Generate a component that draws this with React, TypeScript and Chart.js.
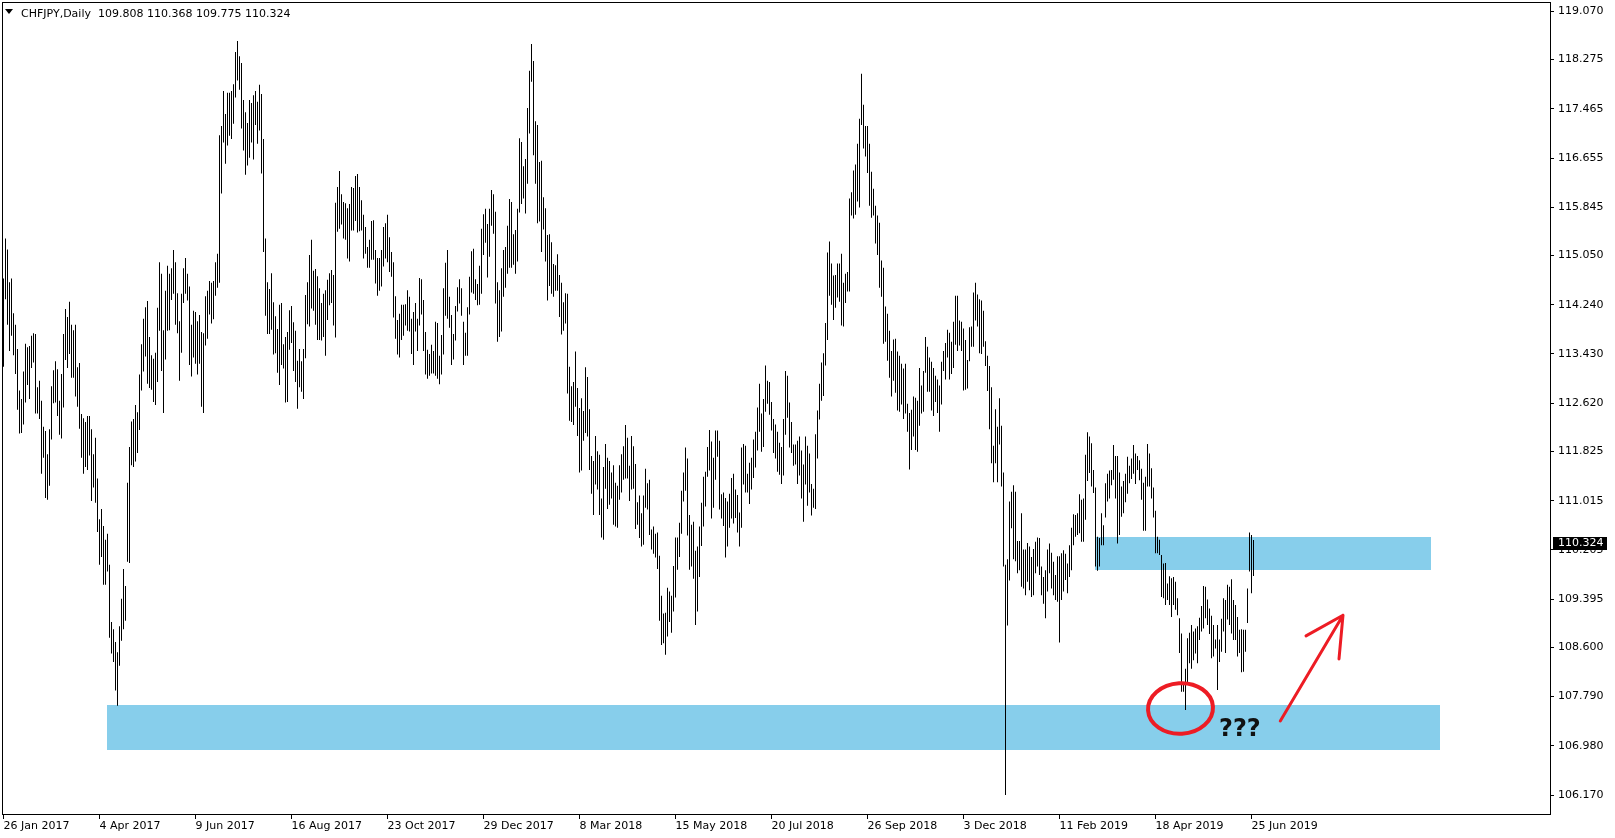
import React, { useEffect, useRef } from "react";
import { Chart, registerables } from "chart.js";

Chart.register(...registerables);

const symbolTitle = "CHFJPY,Daily";
const lastOHLC = [109.808, 110.368, 109.775, 110.324];

// daily bar highs (index 0 = 26 Jan 2017)
const barHigh = [
  114.67,115.33,115.15,114.61,114.67,114.10,113.91,113.51,112.83,112.69,
  113.14,113.60,113.54,113.56,113.73,113.77,113.76,112.88,112.99,112.66,
  112.23,112.16,111.78,112.19,112.90,113.16,113.31,113.18,112.66,113.10,
  113.76,114.17,114.04,114.29,113.91,113.82,113.91,113.21,113.28,112.44,
  112.37,112.31,112.41,112.41,112.19,111.78,112.05,111.38,110.71,110.88,
  110.60,110.37,110.47,109.96,109.02,108.90,108.69,108.52,108.95,109.40,
  109.89,109.61,111.31,111.90,112.32,112.36,112.59,112.47,113.09,113.59,
  114.01,114.20,114.30,113.71,113.41,113.35,113.45,114.19,114.94,114.75,
  113.82,114.47,114.88,114.75,114.84,115.14,114.94,114.43,113.97,114.42,
  114.84,115.01,114.75,114.54,113.91,114.14,114.12,113.97,114.07,113.79,
  113.77,114.38,114.47,114.63,114.60,114.63,114.94,115.08,117.03,117.18,
  117.76,117.38,117.73,117.73,117.76,117.87,118.40,118.58,118.33,118.22,
  117.61,117.41,117.23,117.61,117.56,117.69,117.76,117.58,117.86,117.71,
  116.97,115.33,114.61,114.50,114.76,114.28,114.05,113.84,114.24,114.27,
  113.59,113.71,113.79,114.15,114.22,113.95,113.81,113.32,113.51,113.31,
  113.51,114.40,114.61,115.06,115.31,114.80,114.83,114.71,114.51,114.27,
  114.42,114.48,114.65,114.76,114.81,114.73,115.92,116.18,116.44,116.06,
  115.93,115.91,115.83,115.90,116.18,116.16,116.36,116.39,116.18,115.96,
  115.72,115.52,115.19,115.31,115.62,115.63,115.14,115.01,115.01,115.14,
  115.52,115.58,115.72,115.35,115.11,114.94,114.38,113.99,114.09,114.24,
  114.24,114.25,114.48,114.37,114.01,114.12,114.27,114.01,114.68,114.66,
  114.32,113.79,113.50,113.43,113.58,113.48,113.96,113.94,113.40,113.74,
  114.51,114.93,115.14,114.37,114.07,113.76,114.22,114.53,114.66,114.51,
  113.96,113.78,114.20,114.70,115.12,115.16,114.66,114.58,114.88,115.49,
  115.73,115.82,115.57,115.82,116.13,116.06,115.77,114.61,114.48,114.84,
  115.14,115.19,115.54,115.98,115.93,115.40,115.47,115.82,116.98,116.92,
  116.52,116.64,117.48,118.09,118.53,118.25,117.26,117.20,116.59,116.61,
  116.01,115.83,115.39,115.40,115.27,114.91,114.89,115.07,114.73,114.60,
  114.28,114.43,114.42,113.22,112.90,112.97,113.47,112.87,112.54,112.70,
  112.49,113.21,113.05,112.52,111.75,111.67,112.08,111.83,111.77,111.05,
  111.57,111.95,111.72,111.67,111.48,111.60,111.31,111.26,111.60,111.78,
  111.91,112.26,112.05,111.59,112.08,111.91,111.62,110.99,111.10,110.81,
  111.10,111.54,111.30,111.36,110.54,110.59,110.47,110.49,110.11,109.45,
  109.16,109.17,109.58,109.52,109.45,109.94,110.41,110.41,110.65,111.18,
  111.48,111.89,111.71,110.78,110.62,110.67,110.19,110.26,110.59,110.98,
  111.41,111.49,111.90,112.18,111.99,111.72,112.17,112.17,112.00,111.12,
  111.15,111.06,111.00,111.13,111.39,111.46,111.20,111.11,110.82,111.89,
  111.95,111.92,111.46,111.64,111.72,112.02,112.15,112.55,112.94,112.45,
  112.69,113.24,112.99,112.97,112.64,112.36,112.27,112.15,111.97,111.90,
  112.36,113.15,113.07,112.63,112.31,111.94,111.94,112.00,112.07,111.84,
  111.61,112.07,111.92,111.79,111.29,111.21,112.11,112.50,112.94,113.29,
  113.44,113.94,115.10,115.28,114.92,114.72,114.73,114.92,114.92,115.08,
  114.60,114.75,114.78,115.99,116.09,116.45,116.55,116.89,117.30,118.04,
  117.53,117.18,117.18,116.89,116.43,116.15,115.87,115.71,115.59,114.97,
  114.85,114.21,114.09,113.81,113.48,113.67,113.68,113.47,113.40,113.27,
  113.19,113.27,112.61,112.46,112.51,112.73,112.71,112.66,113.20,112.91,
  113.15,113.71,113.55,113.37,113.30,113.20,113.07,113.01,112.91,113.30,
  113.48,113.61,113.83,113.78,113.63,113.96,114.39,114.39,113.98,113.96,
  113.85,113.66,113.33,113.87,113.88,114.44,114.60,114.41,114.33,114.31,
  114.14,113.64,113.40,113.23,112.88,111.92,112.52,112.23,112.70,112.25,
  111.48,109.96,110.05,111.00,111.16,111.27,111.16,110.35,110.35,110.81,
  110.21,110.21,110.32,110.26,110.09,110.22,110.34,110.41,110.40,109.93,
  109.76,109.87,110.21,110.31,110.16,110.01,109.79,110.10,110.10,110.15,
  110.20,110.14,109.98,110.28,110.57,110.79,110.78,110.81,111.12,111.03,
  111.05,111.77,112.14,112.07,111.96,111.52,111.23,110.42,110.40,110.81,
  110.61,111.30,111.46,111.51,111.52,111.93,111.75,111.75,111.48,111.25,
  111.34,111.46,111.74,111.59,111.71,111.93,111.79,111.75,111.68,111.54,
  111.31,111.41,111.95,111.79,111.55,111.23,110.85,110.42,110.37,110.12,
  109.98,109.99,109.65,109.77,109.74,109.76,109.68,109.41,109.08,108.83,
  108.03,108.25,108.75,108.84,108.97,108.86,108.91,108.95,109.09,109.28,
  109.61,109.60,109.39,109.24,109.12,108.97,108.73,108.97,108.73,109.07,
  109.41,109.38,109.63,109.60,109.72,109.38,109.30,109.10,108.89,108.90,
  108.89,108.89,109.57,110.49,110.45,110.368
];

// daily bar lows
const barLow = [
  113.22,114.33,113.91,113.48,113.73,113.41,113.10,112.51,112.12,112.13,
  112.27,112.63,112.92,112.69,113.20,113.29,112.45,112.45,112.36,111.46,
  111.72,111.06,111.03,111.26,112.02,112.62,112.63,112.41,112.10,112.04,
  112.55,113.33,113.20,113.43,113.04,113.04,112.73,112.56,112.20,111.72,
  111.46,111.57,111.52,111.76,111.01,111.23,110.98,110.50,109.96,110.09,
  109.63,109.63,109.85,108.76,108.50,108.36,107.89,107.64,108.30,108.71,
  108.90,109.04,110.01,109.99,111.60,111.57,111.66,111.80,112.18,112.83,
  113.14,113.39,112.94,112.87,112.84,112.64,112.59,112.97,113.81,113.15,
  112.46,113.34,113.81,113.82,114.32,114.42,113.91,113.77,112.99,113.45,
  114.27,114.42,114.31,113.25,113.06,113.37,113.27,113.09,113.27,112.56,
  112.46,113.57,113.68,114.08,113.93,114.00,114.39,114.52,114.60,116.07,
  116.91,116.56,116.86,117.02,116.97,117.22,117.65,117.93,117.78,117.14,
  116.78,116.38,116.53,116.66,116.91,116.63,117.20,116.89,117.11,116.40,
  115.11,114.06,113.76,113.76,113.83,113.42,113.44,113.12,112.92,113.25,
  113.19,112.63,112.64,113.50,113.61,113.15,112.97,112.53,112.88,112.81,
  112.69,113.36,113.92,113.88,114.18,114.14,113.91,113.66,113.66,113.65,
  113.71,113.40,113.99,114.23,114.27,113.90,113.70,115.44,115.49,115.56,
  115.33,115.31,115.00,114.95,115.46,115.46,115.62,115.43,115.45,115.46,
  115.00,115.08,114.85,114.85,114.98,114.98,114.59,114.39,114.47,114.54,
  114.87,115.00,114.94,114.78,114.70,114.03,113.68,113.42,113.37,113.66,
  113.73,113.90,113.81,113.80,113.43,113.25,113.80,113.48,113.90,114.08,
  113.48,113.09,113.02,113.07,113.11,113.11,113.07,113.02,112.93,113.09,
  113.42,114.06,114.01,113.86,113.25,113.34,113.65,114.13,114.26,114.06,
  113.25,113.40,113.40,114.08,114.44,114.42,114.32,114.23,114.24,114.42,
  115.06,115.26,114.69,115.03,115.54,115.41,114.26,113.63,113.71,113.80,
  114.37,114.52,114.75,114.85,114.85,114.90,114.75,114.95,115.76,115.90,
  115.99,115.74,116.23,117.06,117.91,116.70,116.23,115.58,115.61,115.11,
  115.48,114.95,114.31,114.55,114.42,114.37,114.47,114.47,114.04,113.75,
  113.81,113.93,112.78,112.33,112.31,112.26,112.56,112.08,111.48,111.51,
  112.00,112.13,112.07,111.52,111.13,110.78,111.28,111.20,110.78,110.41,
  110.37,111.21,110.88,110.95,111.05,110.62,110.59,110.57,111.03,111.15,
  111.36,111.38,111.38,111.01,111.20,111.21,110.55,110.62,110.40,110.26,
  110.29,110.90,110.87,110.45,110.21,110.14,110.08,109.89,109.04,108.64,
  108.67,108.48,108.78,109.02,108.84,109.19,109.42,109.88,110.09,110.47,
  111.00,111.18,110.44,109.88,109.93,109.73,108.97,109.19,109.76,110.27,
  110.59,110.92,111.41,111.51,110.72,110.90,111.36,111.74,110.87,110.72,
  110.60,110.08,110.26,110.57,110.72,110.64,110.73,110.49,110.26,110.57,
  111.28,111.15,111.15,110.96,111.20,111.39,111.56,111.84,112.15,111.82,
  111.90,112.48,112.61,112.43,112.17,111.80,111.71,111.49,111.44,111.29,
  111.43,112.10,112.38,111.89,111.80,111.59,111.61,111.29,111.43,111.05,
  110.67,111.28,110.93,111.15,110.77,110.90,110.88,111.71,112.35,112.66,
  112.74,113.24,113.66,114.39,114.24,113.99,114.19,114.36,114.29,113.90,
  113.88,114.27,114.46,114.46,115.71,115.66,115.72,115.94,115.84,117.20,
  116.81,116.68,116.41,115.87,115.67,115.71,115.25,115.06,114.52,114.37,
  113.60,113.63,113.32,113.04,112.73,112.99,112.79,112.50,112.48,112.60,
  112.36,112.45,112.15,111.53,111.85,112.07,111.85,111.82,112.25,112.45,
  112.48,113.12,112.81,112.81,112.50,112.41,112.64,112.46,112.15,112.60,
  113.15,113.01,113.37,113.01,113.10,113.20,113.58,113.48,113.57,113.48,
  112.83,112.84,112.86,113.31,113.55,113.55,113.98,113.88,113.44,113.43,
  113.55,113.23,112.82,112.19,111.63,111.32,111.63,111.32,111.94,111.25,
  109.93,106.17,108.96,109.70,110.56,110.05,110.02,109.82,109.87,109.60,
  109.57,109.46,109.68,109.54,109.43,109.46,109.82,109.93,109.79,109.46,
  109.32,109.08,109.52,109.82,109.57,109.46,109.38,109.35,108.68,109.38,
  109.52,109.71,109.49,109.76,109.87,110.28,110.42,110.45,110.48,110.34,
  110.34,110.70,111.34,111.47,111.25,111.14,109.93,109.86,109.93,110.28,
  110.28,110.74,111.00,111.05,111.27,111.36,111.05,110.31,110.45,110.75,
  110.81,110.99,111.13,111.30,111.37,111.46,111.29,111.52,111.35,111.03,
  110.52,110.52,111.25,111.25,111.05,110.74,110.15,110.15,110.12,109.43,
  109.41,109.30,109.38,109.30,109.10,109.30,109.22,109.13,108.51,107.87,
  107.87,107.57,108.03,108.34,108.25,108.39,108.50,108.34,108.72,108.86,
  108.91,109.08,108.97,108.82,108.42,108.45,108.58,107.90,108.36,108.53,
  108.86,108.51,109.06,108.97,108.83,108.72,108.72,108.45,108.51,108.19,
  108.20,108.53,109.00,109.85,109.49,109.775
];

const dateTickIndex = [0, 48, 96, 144, 192, 240, 288, 336, 384, 432, 480, 528, 576, 624];
const dateTickLabels = [
  "26 Jan 2017", "4 Apr 2017", "9 Jun 2017", "16 Aug 2017", "23 Oct 2017",
  "29 Dec 2017", "8 Mar 2018", "15 May 2018", "20 Jul 2018", "26 Sep 2018",
  "3 Dec 2018", "11 Feb 2019", "18 Apr 2019", "25 Jun 2019"
];
const priceTicks = [
  119.07, 118.275, 117.465, 116.655, 115.845, 115.05, 114.24, 113.43, 112.62,
  111.825, 111.015, 110.205, 109.395, 108.6, 107.79, 106.98, 106.17
];

// supply/demand zones (bar index range, price range)
const zoneFrom = [51.75, 545.75];
const zoneTo = [718.25, 713.75];
const zoneTop = [107.652, 110.417];
const zoneBottom = [106.911, 109.874];

// hand-drawn marks (bar index, price)
const circleCenter = [588.5, 107.595];
const circleRadius = [16.25, 0.416];
const arrowTail = [638.4, 107.39];
const arrowTip = [669.75, 109.13];
const arrowWingA = [651.25, 108.79];
const arrowWingB = [667.75, 108.41];
const questionText = "???";
const questionAt = [607.75, 107.142];

const FONT = "'DejaVu Sans', sans-serif";

const overlayPlugin = {
  id: "mt4overlay",
  beforeDatasetsDraw(chart: any) {
    const { ctx, chartArea, scales } = chart;
    const xs = scales.x, ys = scales.y;
    ctx.save();
    ctx.beginPath();
    ctx.rect(chartArea.left, chartArea.top, chartArea.right - chartArea.left, chartArea.bottom - chartArea.top);
    ctx.clip();
    ctx.fillStyle = "#87CEEB";
    for (let k = 0; k < zoneFrom.length; k++) {
      const x0 = Math.round(xs.getPixelForValue(zoneFrom[k]));
      const x1 = Math.round(xs.getPixelForValue(zoneTo[k]));
      const y0 = Math.round(ys.getPixelForValue(zoneTop[k]));
      const y1 = Math.round(ys.getPixelForValue(zoneBottom[k]));
      ctx.fillRect(x0, y0, x1 - x0, y1 - y0);
    }
    ctx.restore();
  },
  afterDatasetsDraw(chart: any) {
    const { ctx, scales } = chart;
    const xs = scales.x, ys = scales.y;
    const px = (p: number[]) => [xs.getPixelForValue(p[0]), ys.getPixelForValue(p[1])];
    ctx.save();
    const [cx, cy] = px(circleCenter);
    const rx = xs.getPixelForValue(circleCenter[0] + circleRadius[0]) - cx;
    const ry = cy - ys.getPixelForValue(circleCenter[1] + circleRadius[1]);
    ctx.strokeStyle = "#ED1C24";
    ctx.lineWidth = 4;
    ctx.beginPath();
    ctx.ellipse(cx, cy, rx, ry, -0.06, 0, Math.PI * 2);
    ctx.stroke();
    const t = px(arrowTail), h = px(arrowTip), a = px(arrowWingA), b = px(arrowWingB);
    ctx.lineWidth = 3;
    ctx.lineCap = "round";
    ctx.lineJoin = "round";
    ctx.beginPath();
    ctx.moveTo(t[0], t[1]);
    ctx.lineTo(h[0], h[1]);
    ctx.moveTo(a[0], a[1]);
    ctx.lineTo(h[0], h[1]);
    ctx.lineTo(b[0], b[1]);
    ctx.stroke();
    const q = px(questionAt);
    ctx.fillStyle = "#111111";
    ctx.font = `bold 24px ${FONT}`;
    ctx.textAlign = "left";
    ctx.textBaseline = "alphabetic";
    ctx.fillText(questionText, q[0], q[1]);
    ctx.restore();
  },
  afterDraw(chart: any) {
    const { ctx, chartArea, scales } = chart;
    const ys = scales.y;
    ctx.save();
    ctx.strokeStyle = "#000";
    ctx.lineWidth = 1;
    ctx.strokeRect(chartArea.left + 0.5, chartArea.top + 0.5, chartArea.right - chartArea.left, chartArea.bottom - chartArea.top);
    ctx.fillStyle = "#000";
    ctx.beginPath();
    ctx.moveTo(5, 9);
    ctx.lineTo(13, 9);
    ctx.lineTo(9, 14);
    ctx.closePath();
    ctx.fill();
    ctx.font = `11px ${FONT}`;
    ctx.textAlign = "left";
    ctx.textBaseline = "alphabetic";
    ctx.fillText(symbolTitle, 21, 17);
    ctx.fillText(lastOHLC.map((v) => v.toFixed(3)).join(" "), 98, 17);
    const close = lastOHLC[3];
    const py = Math.round(ys.getPixelForValue(close));
    ctx.fillStyle = "#000";
    ctx.fillRect(chartArea.right + 3, py - 6, 54, 13);
    ctx.fillStyle = "#fff";
    ctx.textBaseline = "middle";
    ctx.fillText(close.toFixed(3), chartArea.right + 8, py + 0.5);
    ctx.restore();
  },
};

export default function App() {
  const ref = useRef<HTMLCanvasElement | null>(null);
  useEffect(() => {
    document.body.style.margin = "0";
    const canvas = ref.current;
    if (!canvas) return;
    const data = barHigh.map((hi, i) => ({ x: i, y: [barLow[i], hi] }));
    const chart = new Chart(canvas, {
      type: "bar",
      data: {
        datasets: [
          {
            data: data as any,
            backgroundColor: "#000000",
            borderWidth: 0,
            barThickness: 1,
            inflateAmount: 0,
          } as any,
        ],
      },
      options: {
        animation: false,
        responsive: false,
        devicePixelRatio: 1,
        layout: { padding: { left: 2, top: 2, right: 0, bottom: 0 } },
        plugins: { legend: { display: false }, tooltip: { enabled: false } },
        scales: {
          x: {
            type: "linear",
            min: -0.75,
            max: 773.25,
            offset: false,
            grid: { display: true, offset: false, drawOnChartArea: false, drawTicks: true, tickLength: 5, color: "#000" },
            border: { display: false },
            afterBuildTicks: (s: any) => {
              s.ticks = dateTickIndex.map((v) => ({ value: v }));
            },
            afterFit: (s: any) => {
              s.height = 24;
              s.paddingLeft = 0;
              s.paddingRight = 0;
            },
            ticks: {
              autoSkip: false,
              maxRotation: 0,
              minRotation: 0,
              align: "start",
              padding: 1,
              color: "#000",
              font: { family: FONT, size: 11 },
              callback: (v: any) => {
                const k = dateTickIndex.indexOf(Number(v));
                return k >= 0 ? dateTickLabels[k] : "";
              },
            },
          },
          y: {
            type: "linear",
            position: "right",
            min: 105.858,
            max: 119.223,
            grid: { display: true, drawOnChartArea: false, drawTicks: true, tickLength: 4, color: "#000" },
            border: { display: false },
            afterBuildTicks: (s: any) => {
              s.ticks = priceTicks.map((v) => ({ value: v }));
            },
            afterFit: (s: any) => {
              s.width = 65;
              s.paddingTop = 0;
              s.paddingBottom = 0;
            },
            ticks: {
              autoSkip: false,
              padding: 4,
              color: "#000",
              font: { family: FONT, size: 11 },
              callback: (v: any) => Number(v).toFixed(3),
            },
          },
        },
      } as any,
      plugins: [overlayPlugin],
    });
    return () => chart.destroy();
  }, []);
  return (
    <div style={{ position: "relative", width: 1615, height: 838, background: "#fff" }}>
      <canvas ref={ref} width={1615} height={838} style={{ display: "block", width: 1615, height: 838 }} />
    </div>
  );
}
